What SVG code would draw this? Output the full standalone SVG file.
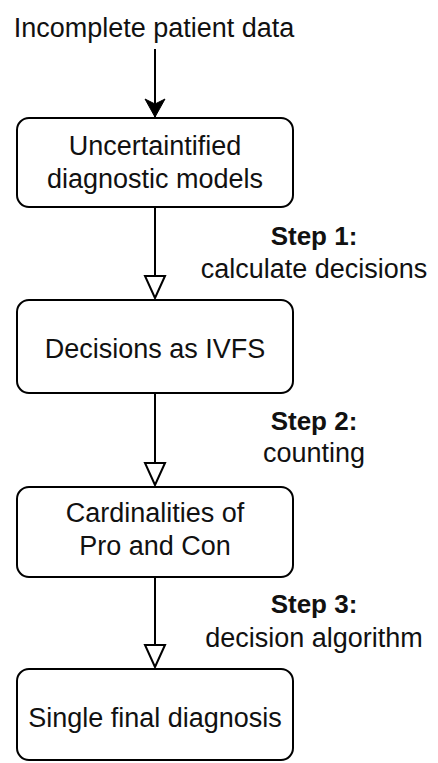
<svg xmlns="http://www.w3.org/2000/svg" width="438" height="763" viewBox="0 0 438 763">
<style>
.box{fill:#fff;stroke:#000;stroke-width:2}
.t{font-family:"Liberation Sans",Arial,sans-serif;font-size:27px;fill:#111;text-anchor:middle}
.b{font-weight:bold;font-size:26px}
.edge{stroke:#000;stroke-width:2;fill:none}
</style>
<defs>
<marker id="filled" markerUnits="userSpaceOnUse" viewBox="0 -12 20 24" markerWidth="20" markerHeight="24" refX="18" refY="0" orient="auto" overflow="visible">
<path d="M0,-10 L18,0 L0,10 L5,0 Z" fill="#000" stroke="#000" stroke-width="1"/>
</marker>
<marker id="open" markerUnits="userSpaceOnUse" viewBox="0 -12 24 24" markerWidth="24" markerHeight="24" refX="22" refY="0" orient="auto" overflow="visible">
<path d="M0,-10 L22,0 L0,10 Z" fill="#fff" stroke="#000" stroke-width="2" stroke-linejoin="miter"/>
</marker>
</defs>
<rect width="438" height="763" fill="#fff"/>
<g id="input">
<text class="t" x="154" y="37">Incomplete patient data</text>
</g>
<g id="connectors">
<line class="edge" x1="155" y1="49" x2="155" y2="117" marker-end="url(#filled)"/>
<line class="edge" x1="155" y1="207" x2="155" y2="298" marker-end="url(#open)"/>
<line class="edge" x1="155" y1="393" x2="155" y2="485" marker-end="url(#open)"/>
<line class="edge" x1="155" y1="577" x2="155" y2="667" marker-end="url(#open)"/>
</g>
<g id="models">
<rect class="box" x="17" y="118" width="276" height="89" rx="12"/>
<text class="t" x="155" y="155">Uncertaintified</text>
<text class="t" x="155" y="188">diagnostic models</text>
</g>
<g id="step1">
<text class="t b" x="314" y="245">Step 1:</text>
<text class="t" x="314" y="278">calculate decisions</text>
</g>
<g id="decisions">
<rect class="box" x="17" y="300" width="276" height="93" rx="12"/>
<text class="t" x="155" y="358">Decisions as IVFS</text>
</g>
<g id="step2">
<text class="t b" x="314" y="430">Step 2:</text>
<text class="t" x="314" y="462">counting</text>
</g>
<g id="cardinalities">
<rect class="box" x="17" y="487" width="276" height="90" rx="12"/>
<text class="t" x="155" y="522">Cardinalities of</text>
<text class="t" x="155" y="555">Pro and Con</text>
</g>
<g id="step3">
<text class="t b" x="314" y="613">Step 3:</text>
<text class="t" x="314" y="647">decision algorithm</text>
</g>
<g id="diagnosis">
<rect class="box" x="17" y="669" width="276" height="91" rx="12"/>
<text class="t" x="155" y="727">Single final diagnosis</text>
</g>
</svg>
